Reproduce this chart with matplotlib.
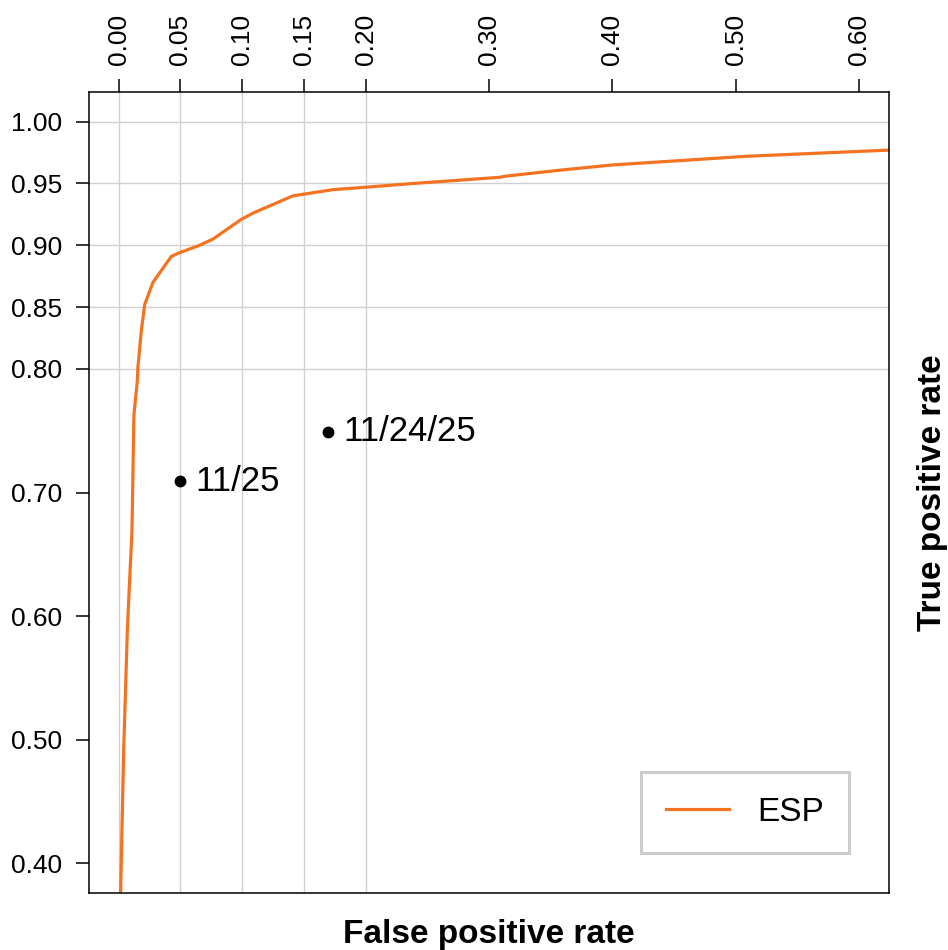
# ROC curve for ESP with two single-threshold points marked

import matplotlib.pyplot as plt

plt.rcParams['font.family'] = ['Liberation Sans', 'DejaVu Sans']

# curve
fpr = [0.0000, 0.0016, 0.0041, 0.0071, 0.0108, 0.0124, 0.0152,
       0.0156, 0.0184, 0.0211, 0.0278, 0.0427, 0.0494, 0.0656, 0.0764, 0.0994,
       0.1088, 0.1412, 0.1737, 0.2007, 0.2385, 0.3088, 0.3142, 0.3598, 0.4003,
       0.5087, 0.6242]
tpr = [0.350, 0.376, 0.492, 0.590, 0.669, 0.763, 0.791,
       0.801, 0.831, 0.852, 0.870, 0.891, 0.894, 0.900, 0.905, 0.921,
       0.926, 0.940, 0.945, 0.947, 0.950, 0.955, 0.956, 0.961, 0.965,
       0.972, 0.977]

# single points
point_fpr = [0.0497, 0.1696]
point_tpr = [0.709, 0.749]
point_labels = ['11/25', '11/24/25']

x_ticks = [0.00, 0.05, 0.10, 0.15, 0.20, 0.30, 0.40, 0.50, 0.60]
y_ticks = [0.40, 0.50, 0.60, 0.70, 0.80, 0.85, 0.90, 0.95, 1.00]
grid_x = [0.00, 0.05, 0.10, 0.15, 0.20]
grid_y = [0.80, 0.85, 0.90, 0.95, 1.00]

fig = plt.figure(figsize=(9.48, 9.50), dpi=100)
ax = fig.add_axes([89 / 948, 1 - 893 / 950, 800 / 948, 801 / 950])

for g in grid_x:
    ax.axvline(g, color='#d0d0d0', lw=1, zorder=0)
for g in grid_y:
    ax.axhline(g, color='#d0d0d0', lw=1, zorder=0)

ax.plot(fpr, tpr, color='#f47321', lw=2.3, label='ESP', zorder=2)
ax.plot(point_fpr, point_tpr, 'o', color='black', ms=7.5, zorder=3)
for x, y, lab in zip(point_fpr, point_tpr, point_labels):
    ax.annotate(lab, (x, y), xytext=(11, 0), textcoords='offset points',
                ha='left', va='center', fontsize=25)

ax.set_xlim(-0.024, 0.624)
ax.set_ylim(0.376, 1.024)

ax.set_xticks(x_ticks)
ax.set_xticklabels(['%.2f' % t for t in x_ticks], rotation=90)
ax.set_yticks(y_ticks)
ax.set_yticklabels(['%.2f' % t for t in y_ticks])
ax.tick_params(axis='x', top=True, bottom=False, labeltop=True, labelbottom=False)
ax.tick_params(length=9.5, width=1.1, pad=10, labelsize=19, direction='out')
for s in ax.spines.values():
    s.set_linewidth(1.1)

ax.set_xlabel('False positive rate', fontsize=24, fontweight='bold', labelpad=19)
ax.xaxis.set_label_position('bottom')
ax.set_ylabel('True positive rate', fontsize=24, fontweight='bold', labelpad=20)
ax.yaxis.set_label_position('right')

leg = ax.legend(loc='lower right', fontsize=24, frameon=True, fancybox=False,
                handlelength=1.9, handletextpad=0.85, borderpad=0.75,
                borderaxespad=1.2)
leg.get_frame().set_edgecolor('#c0c0c0')
leg.get_frame().set_linewidth(2.2)

fig.savefig('out.png', dpi=100)
